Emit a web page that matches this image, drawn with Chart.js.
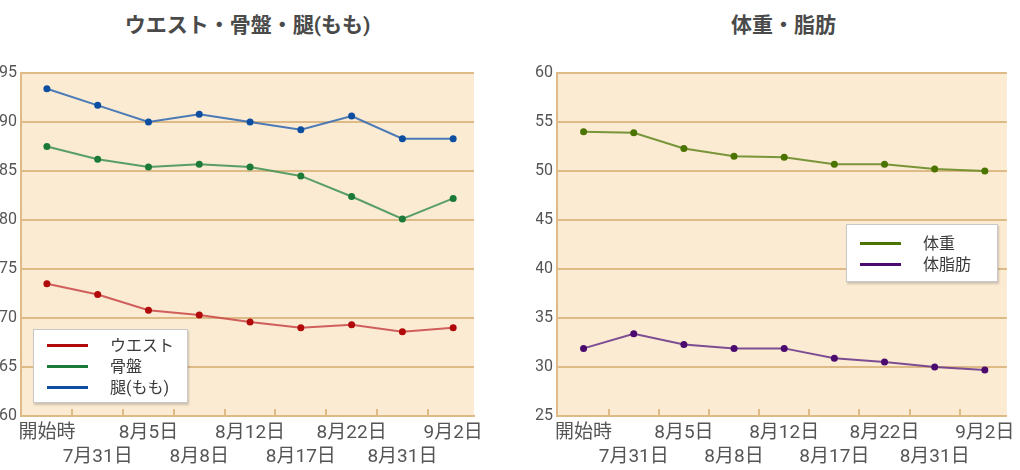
<!DOCTYPE html>
<html>
<head>
<meta charset="utf-8">
<script src="https://cdn.jsdelivr.net/npm/chart.js@4"></script>
<style>
body{margin:0;background:#fff;width:1020px;height:470px;overflow:hidden;position:relative;font-family:Roboto,"Noto Sans CJK JP",sans-serif}
.box{position:absolute;top:0;height:470px}
.ttl{position:absolute;top:8px;font-size:21px;font-weight:bold;color:#4a4a4a;text-align:center;white-space:nowrap}
.lg{position:absolute;background:#fff;border:1px solid #c8c8c8;box-shadow:1px 2px 2px rgba(0,0,0,0.18);font-size:16px;color:#3a3a3a}
.lg div{height:21px;line-height:21px;position:relative;padding-left:76px}
.lg span{position:absolute;left:13px;top:9px;width:41px;height:3px}
</style>
</head>
<body>
<div class="ttl" style="left:21px;width:453px">ウエスト・骨盤・腿(もも)</div>
<div class="ttl" style="left:557px;width:453px">体重・脂肪</div>
<div class="box" style="left:0;width:496px"><canvas id="c1" width="496" height="470"></canvas></div>
<div class="box" style="left:536px;width:484px"><canvas id="c2" width="484" height="470"></canvas></div>
<div class="lg" id="lg1" style="left:33px;top:329px;width:153px;padding:5px 0 4px"></div>
<div class="lg" id="lg2" style="left:846px;top:224px;width:150px;padding:8px 0 6px"></div>
<script>
var dates=['開始時','7月31日','8月5日','8月8日','8月12日','8月17日','8月22日','8月31日','9月2日']
var waist=[73.5,72.4,70.8,70.3,69.6,69.0,69.3,68.6,69.0]
var pelvis=[87.5,86.2,85.4,85.7,85.4,84.5,82.4,80.1,82.2]
var thigh=[93.4,91.7,90.0,90.8,90.0,89.2,90.6,88.3,88.3]
var weight=[54.0,53.9,52.3,51.5,51.4,50.7,50.7,50.2,50.0]
var fat=[31.9,33.4,32.3,31.9,31.9,30.9,30.5,30.0,29.7]

Chart.defaults.font.family='Roboto, "Noto Sans CJK JP", sans-serif'
Chart.defaults.font.size=16
Chart.defaults.color='#555'

var grid='#DDBA86'

function pts(arr){
  return arr.map(function(v,i){return {x:i,y:v}})
}

// peach background + small inward ticks at the bottom
var deco={
  id:'deco',
  beforeDraw:function(c){
    var a=c.chartArea, ctx=c.ctx
    ctx.save()
    ctx.fillStyle='#FBEBD3'
    ctx.fillRect(a.left,a.top,a.right-a.left,a.bottom-a.top)
    ctx.restore()
  },
  afterDatasetsDraw:function(c){
    var a=c.chartArea, ctx=c.ctx, x=c.scales.x
    ctx.save()
    ctx.strokeStyle=grid
    ctx.lineWidth=2
    for(var i=0;i<dates.length-1;i++){
      var px=Math.round(x.getPixelForValue(i+0.5))
      ctx.beginPath()
      ctx.moveTo(px,a.bottom)
      ctx.lineTo(px,a.bottom-7)
      ctx.stroke()
    }
    ctx.restore()
  }
}

function ds(label,arr,line,dot){
  return {label:label,data:pts(arr),borderColor:line,backgroundColor:dot,legendColor:dot,
    borderWidth:2,pointRadius:3.5,pointBackgroundColor:dot,pointBorderWidth:0,tension:0}
}

function opts(ymin,ymax,xmin,xmax,padRight){
  return {
    responsive:false,
    animation:false,
    devicePixelRatio:1,
    layout:{padding:{top:73,right:padRight,left:0,bottom:0}},
    plugins:{legend:{display:false},tooltip:{enabled:false}},
    scales:{
      x:{type:'linear',min:xmin,max:xmax,
        afterFit:function(s){s.height=54},
        grid:{display:false,tickLength:0},
        border:{color:grid,width:2},
        ticks:{stepSize:1,includeBounds:false,autoSkip:false,maxRotation:0,padding:5,
          font:{size:19,lineHeight:1.26},
          callback:function(v){
            if(v%1!==0||v<0||v>=dates.length)return ''
            return v%2===0?[dates[v],'']:['',dates[v]]
          }}
      },
      y:{min:ymin,max:ymax,
        afterFit:function(s){s.width=21},
        grid:{color:grid,lineWidth:2,drawTicks:false},
        border:{color:grid,width:2},
        ticks:{stepSize:5,padding:4,color:'#555'}
      }
    }
  }
}

var ch1=new Chart(document.getElementById('c1'),{
  type:'line',
  data:{datasets:[
    ds('ウエスト',waist,'rgba(200,70,70,0.85)','#B00A0A'),
    ds('骨盤',pelvis,'rgba(70,150,90,0.9)','#1B7A38'),
    ds('腿(もも)',thigh,'rgba(55,110,180,0.9)','#0E4EA0')
  ]},
  options:opts(60,95,-0.51,8.41,22),
  plugins:[deco]
})

var ch2=new Chart(document.getElementById('c2'),{
  type:'line',
  data:{datasets:[
    ds('体重',weight,'rgba(105,140,40,0.9)','#4A7300'),
    ds('体脂肪',fat,'rgba(110,60,140,0.9)','#4A0A6E')
  ]},
  options:opts(25,60,-0.53,8.44,10),
  plugins:[deco]
})

function legend(chart,id){
  var el=document.getElementById(id)
  chart.data.datasets.forEach(function(d){
    var row=document.createElement('div')
    var sw=document.createElement('span')
    sw.style.background=d.legendColor
    row.appendChild(sw)
    row.appendChild(document.createTextNode(d.label))
    el.appendChild(row)
  })
}
legend(ch1,'lg1')
legend(ch2,'lg2')
</script>
</body>
</html>
